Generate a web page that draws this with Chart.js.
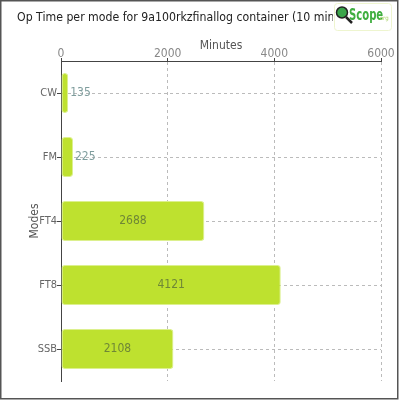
<!DOCTYPE html>
<html>
<head>
<meta charset="utf-8">
<script src="https://cdn.jsdelivr.net/npm/chart.js@4"></script>
<style>
  html, body { margin: 0; padding: 0; background: #fff; }
  #wrap { width: 400px; height: 400px; }
</style>
</head>
<body>
<div id="wrap"><canvas id="opChart" width="400" height="400"></canvas></div>
<script>
const modes = ["CW", "FM", "FT4", "FT8", "SSB"];
const minutes = [135, 225, 2688, 4121, 2108];
const xTicks = [0, 2000, 4000, 6000];

const FONT = "'Liberation Sans Narrow', 'DejaVu Sans Condensed', sans-serif";

// value labels: inside the bar if there is room, else just after it
const valueLabels = {
  id: "valueLabels",
  afterDatasetsDraw(chart) {
    const ctx = chart.ctx;
    const meta = chart.getDatasetMeta(0);
    ctx.save();
    ctx.font = "12px " + FONT;
    ctx.textBaseline = "middle";
    meta.data.forEach(function(bar, i) {
      const txt = String(minutes[i]);
      const w = ctx.measureText(txt).width;
      const len = bar.x - bar.base;
      if (len > w + 10) {
        ctx.fillStyle = "#6f8736";
        ctx.textAlign = "center";
        ctx.fillText(txt, (bar.x + bar.base) / 2, bar.y);
      } else {
        ctx.fillStyle = "#7f9d9d";
        ctx.textAlign = "left";
        ctx.fillText(txt, bar.x + 2, bar.y);
      }
    });
    ctx.restore();
  }
};

// frame + logo
const frameLogo = {
  id: "frameLogo",
  afterDraw(chart) {
    const ctx = chart.ctx;
    ctx.save();
    ctx.strokeStyle = "#555";
    ctx.lineWidth = 1.5;
    ctx.strokeRect(0.75, 0.75, 397, 398);

    // logo box
    ctx.fillStyle = "#fff";
    ctx.fillRect(333, 3, 60, 28);
    ctx.strokeStyle = "#eef5cf";
    ctx.lineWidth = 1;
    ctx.beginPath();
    ctx.roundRect(334.5, 3.5, 57, 27, 3);
    ctx.stroke();
    // magnifier
    ctx.strokeStyle = "#222";
    ctx.lineWidth = 2.5;
    ctx.beginPath();
    ctx.moveTo(346, 17);
    ctx.lineTo(352, 23);
    ctx.stroke();
    ctx.fillStyle = "#3aa54a";
    ctx.beginPath();
    ctx.arc(342, 12.5, 5.5, 0, Math.PI * 2);
    ctx.fill();
    ctx.lineWidth = 1.5;
    ctx.stroke();
    ctx.fillStyle = "#3fae3f";
    ctx.font = "bold 16px " + FONT;
    ctx.textAlign = "left";
    ctx.textBaseline = "alphabetic";
    ctx.save();
    ctx.translate(349, 20);
    ctx.scale(0.7, 1);
    ctx.fillText("Scope", 0, 0);
    ctx.restore();
    ctx.fillStyle = "#a9d36a";
    ctx.font = "6px " + FONT;
    ctx.fillText(".org", 378, 20);
    ctx.restore();
  }
};

new Chart(document.getElementById("opChart"), {
  type: "bar",
  data: {
    labels: modes,
    datasets: [{
      label: "Minutes",
      data: minutes,
      backgroundColor: "#bee12f",
      borderColor: "#dcf08e",
      borderWidth: 1,
      borderRadius: 3,
      borderSkipped: false,
      barPercentage: 0.625,
      categoryPercentage: 1.0
    }]
  },
  options: {
    indexAxis: "y",
    responsive: false,
    animation: false,
    devicePixelRatio: 1,
    layout: { padding: { left: 17, right: 19, top: 0, bottom: 19 } },
    plugins: {
      legend: { display: false },
      tooltip: { enabled: false },
      title: {
        display: true,
        text: "Op Time per mode for 9a100rkzfinallog container (10 mins pause)",
        align: "start",
        color: "#222",
        font: { family: FONT, size: 13, weight: "normal" },
        padding: { top: 10, bottom: 0 }
      }
    },
    scales: {
      x: {
        position: "top",
        min: 0,
        max: 6000,
        afterBuildTicks(axis) {
          axis.ticks = xTicks.map(function(v) { return { value: v }; });
        },
        afterFit(axis) { axis.height = 35.4; },
        border: { display: true, color: "#444", width: 1, dash: [3, 3] },
        grid: {
          color: function(c) { return c.tick && c.tick.value === 0 ? "rgba(0,0,0,0)" : "#bbb"; },
          tickColor: "#444",
          tickLength: 3,
          drawTicks: true
        },
        ticks: {
          color: "#888",
          font: { family: FONT, size: 12 },
          padding: -3,
          callback: function(v) { return String(v); }
        },
        title: {
          display: true,
          text: "Minutes",
          color: "#555",
          font: { family: FONT, size: 12 },
          padding: { top: 13, bottom: 0 }
        }
      },
      y: {
        afterFit(axis) { axis.width = 44; },
        border: { color: "#444", dash: [3, 3] },
        grid: {
          offset: false,
          color: "#bbb",
          tickColor: "#444",
          tickLength: 4
        },
        ticks: {
          color: "#666",
          font: { family: FONT, size: 11 },
          padding: 0
        },
        title: {
          display: true,
          text: "Modes",
          color: "#555",
          font: { family: FONT, size: 12 },
          padding: { top: 11, bottom: 0 }
        }
      }
    }
  },
  plugins: [valueLabels, frameLogo]
});
</script>
</body>
</html>
